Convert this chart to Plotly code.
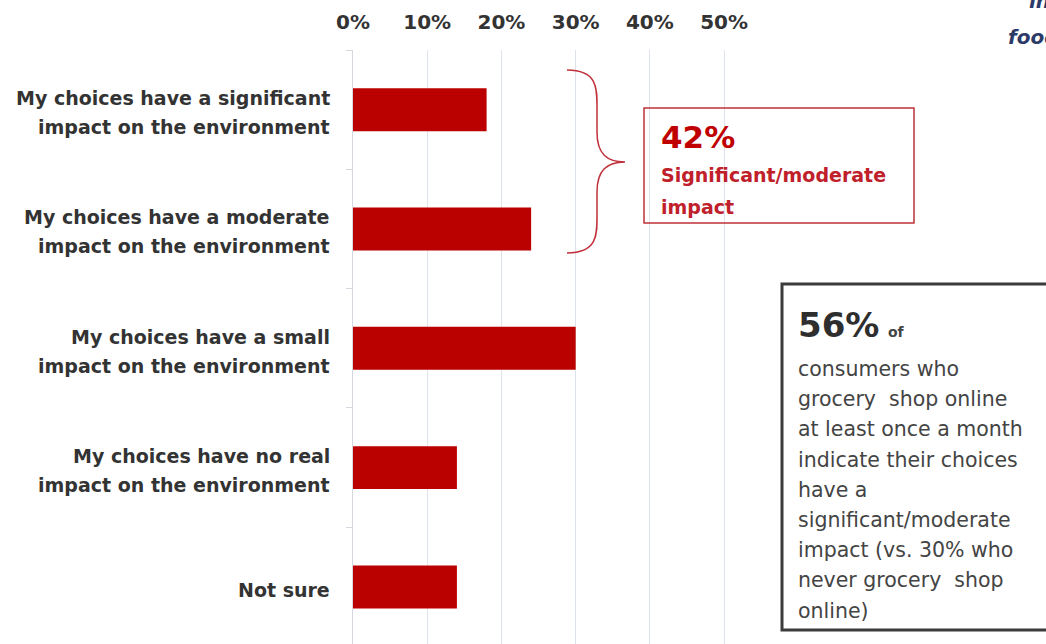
import plotly.graph_objects as go

# Survey responses (share of consumers)
categories = [
    "My choices have a significant<br>impact on the environment",
    "My choices have a moderate<br>impact on the environment",
    "My choices have a small<br>impact on the environment",
    "My choices have no real<br>impact on the environment",
    "Not sure",
]
shares = [0.18, 0.24, 0.30, 0.14, 0.14]
tick_values = [0, 0.1, 0.2, 0.3, 0.4, 0.5]

callout_pct = "42%"
callout_lines = ["Significant/moderate", "impact"]
side_pct = "56%"
side_lines = [
    "consumers who",
    "grocery  shop online",
    "at least once a month",
    "indicate their choices",
    "have a",
    "significant/moderate",
    "impact (vs. 30% who",
    "never grocery  shop",
    "online)",
]

FIG_W, FIG_H = 1046, 644
L, R, T, B = 353, 25, 50, 0
PW, PH = FIG_W - L - R, FIG_H - T - B

RED = "#bb0000"
BOX_RED = "#c0303a"
TEXT = "#333333"
FONT = "DejaVu Sans"


def px_x(px):
    return (px - L) / PW


def px_y(py):
    return 1 - (py - T) / PH


fig = go.Figure()
fig.add_trace(go.Bar(
    x=shares,
    y=categories,
    orientation="h",
    marker=dict(color=RED, line=dict(width=0)),
    width=0.36,
    hoverinfo="skip",
))

annotations = []

# Category labels, right aligned, one annotation per line
for i, label in enumerate(categories):
    lines = label.split("<br>")
    n = len(lines)
    for j, line in enumerate(lines):
        annotations.append(dict(
            x=0, xref="paper", y=label, yref="y",
            xanchor="right", yanchor="middle",
            xshift=-21, yshift=-((j - (n - 1) / 2) * 29) - 3,
            text=line, showarrow=False,
            font=dict(family=FONT, size=19, color=TEXT, weight="bold"),
        ))

# Red callout box text
annotations.append(dict(
    x=px_x(659), y=px_y(137), xref="paper", yref="paper",
    xanchor="left", yanchor="middle", text=callout_pct, showarrow=False,
    font=dict(family=FONT, size=31, color="#c00000", weight="bold"),
))
for j, line in enumerate(callout_lines):
    annotations.append(dict(
        x=px_x(659), y=px_y(175 + 32 * j), xref="paper", yref="paper",
        xanchor="left", yanchor="middle", text=line, showarrow=False,
        font=dict(family=FONT, size=19, color="#c0202a", weight="bold"),
    ))

# Grey side box text
annotations.append(dict(
    x=px_x(796), y=px_y(325), xref="paper", yref="paper",
    xanchor="left", yanchor="middle", text=side_pct, showarrow=False,
    font=dict(family=FONT, size=34, color="#2e2e2e", weight="bold"),
))
annotations.append(dict(
    x=px_x(886), y=px_y(332), xref="paper", yref="paper",
    xanchor="left", yanchor="middle", text="of", showarrow=False,
    font=dict(family=FONT, size=14, color="#444444", weight="bold"),
))
for j, line in enumerate(side_lines):
    annotations.append(dict(
        x=px_x(796), y=px_y(369 + 30.2 * j), xref="paper", yref="paper",
        xanchor="left", yanchor="middle", text=line, showarrow=False,
        font=dict(family=FONT, size=20.5, color="#444444"),
    ))

# Heading fragments running off the right edge
for txt, xp, yp in [("in", 1027, 1), ("food", 1006, 37)]:
    annotations.append(dict(
        x=px_x(xp), y=px_y(yp), xref="paper", yref="paper",
        xanchor="left", yanchor="middle", text=txt, showarrow=False,
        font=dict(family=FONT, size=20, color="#2b3a67", weight="bold",
                  style="italic"),
    ))

# Curly brace grouping the first two bars
x0, xm, xt = 567, 597, 625
yt, ymid, yb = 70, 162, 253


def pt(px, py):
    return f"{px_x(px)},{px_y(py)}"


brace = (
    f"M {pt(x0, yt)} "
    f"C {pt(xm + 2, yt)} {pt(xm, yt + 20)} {pt(xm, yt + 40)} "
    f"L {pt(xm, ymid - 30)} "
    f"C {pt(xm, ymid - 8)} {pt(xm + 10, ymid)} {pt(xt, ymid)} "
    f"C {pt(xm + 10, ymid)} {pt(xm, ymid + 8)} {pt(xm, ymid + 30)} "
    f"L {pt(xm, yb - 40)} "
    f"C {pt(xm, yb - 20)} {pt(xm + 2, yb)} {pt(x0, yb)}"
)

shapes = [
    dict(type="path", path=brace, xref="paper", yref="paper",
         line=dict(color=BOX_RED, width=1.5)),
    dict(type="rect", xref="paper", yref="paper",
         x0=px_x(644), x1=px_x(914), y0=px_y(108), y1=px_y(223),
         line=dict(color=BOX_RED, width=1.5)),
    dict(type="rect", xref="paper", yref="paper",
         x0=px_x(782), x1=px_x(1070), y0=px_y(284), y1=px_y(630),
         line=dict(color="#3c3c3c", width=3)),
]

fig.update_layout(
    width=FIG_W, height=FIG_H,
    margin=dict(l=L, r=R, t=T, b=B, pad=0),
    paper_bgcolor="white", plot_bgcolor="white",
    showlegend=False,
    annotations=annotations,
    shapes=shapes,
    xaxis=dict(
        side="top", range=[0, 0.9], tickvals=tick_values, tickformat=".0%",
        showgrid=True, gridcolor="#dde3eb", gridwidth=1, zeroline=False,
        showline=False, ticks="", ticklabelstandoff=16,
        tickfont=dict(family=FONT, size=20, color=TEXT, weight="bold"),
    ),
    yaxis=dict(
        categoryorder="array", categoryarray=categories,
        range=[4.478, -0.5], showticklabels=False,
        ticks="outside", tickson="boundaries", ticklen=6,
        tickcolor="#d5d9df", showline=True, linecolor="#d5d9df",
        showgrid=False, zeroline=False,
    ),
)

fig.write_html("out.html")
